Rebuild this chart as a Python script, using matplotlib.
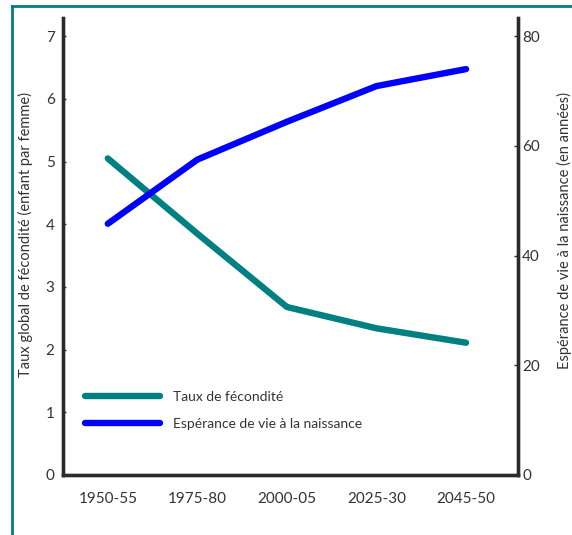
import matplotlib.pyplot as plt
from matplotlib.lines import Line2D

plt.rcParams['font.family'] = ['Lato', 'DejaVu Sans']

# données
periodes = ['1950-55', '1975-80', '2000-05', '2025-30', '2045-50']
fecondite = [5.05, 3.85, 2.68, 2.34, 2.11]
esperance = [45.8, 57.5, 64.4, 70.9, 74.0]

TEAL = '#008080'
BLUE = '#0000ff'
DARK = '#2b2b2b'
TXT = '#333333'

fig = plt.figure(figsize=(5.72, 5.35), dpi=100)
ax1 = fig.add_axes([63 / 572, 60 / 535, 455 / 572, 457 / 535])
ax2 = ax1.twinx()

x = list(range(len(periodes)))
ax1.plot(x, fecondite, color=TEAL, lw=4.6, solid_capstyle='round',
         solid_joinstyle='round')
ax2.plot(x, esperance, color=BLUE, lw=4.6, solid_capstyle='round',
         solid_joinstyle='round')

ax1.set_xlim(-0.5, 4.58)
ax1.set_ylim(0, 7.29)
ax2.set_ylim(0, 7.29 * 80 / 7)

ax1.set_xticks(x)
ax1.set_xticklabels(periodes)
ax1.set_yticks(range(8))
ax2.set_yticks([0, 20, 40, 60, 80])

for ax in (ax1, ax2):
    ax.spines['top'].set_visible(False)
    for s in ('left', 'right', 'bottom'):
        ax.spines[s].set_color(DARK)
        ax.spines[s].set_linewidth(2.4)

ax1.tick_params(axis='x', length=0, pad=12, labelsize=11, labelcolor=TXT)
ax1.tick_params(axis='y', direction='in', length=2.5, width=1, color=DARK,
                pad=6, labelsize=11, labelcolor=TXT)
ax2.tick_params(axis='y', direction='in', length=3, width=1, color=DARK,
                pad=3, labelsize=11, labelcolor=TXT)

ax1.set_ylabel('Taux global de fécondité (enfant par femme)', fontsize=10.5,
               color=TXT, labelpad=9)
ax2.set_ylabel('Espérance de vie à la naissance (en années)', fontsize=10.5,
               color=TXT, labelpad=12)
ax1.yaxis.label.set_y(0.527)
ax2.yaxis.label.set_y(0.535)

handles = [Line2D([], [], color=TEAL, lw=4.6, solid_capstyle='round'),
           Line2D([], [], color=BLUE, lw=4.6, solid_capstyle='round')]
ax2.legend(handles, ['Taux de fécondité', 'Espérance de vie à la naissance'],
           loc='lower left', bbox_to_anchor=(0.02, 0.072), frameon=False,
           fontsize=10, handlelength=5.4, handletextpad=1.0,
           labelspacing=1.05, labelcolor=TXT)

# cadre
fig.add_artist(Line2D([12 / 572, 12 / 572], [0, 1 - 6 / 535],
                      transform=fig.transFigure, color=TEAL, lw=2))
fig.add_artist(Line2D([12 / 572, 1], [1 - 6 / 535, 1 - 6 / 535],
                      transform=fig.transFigure, color=TEAL, lw=2))

fig.savefig('out.png', dpi=100)
